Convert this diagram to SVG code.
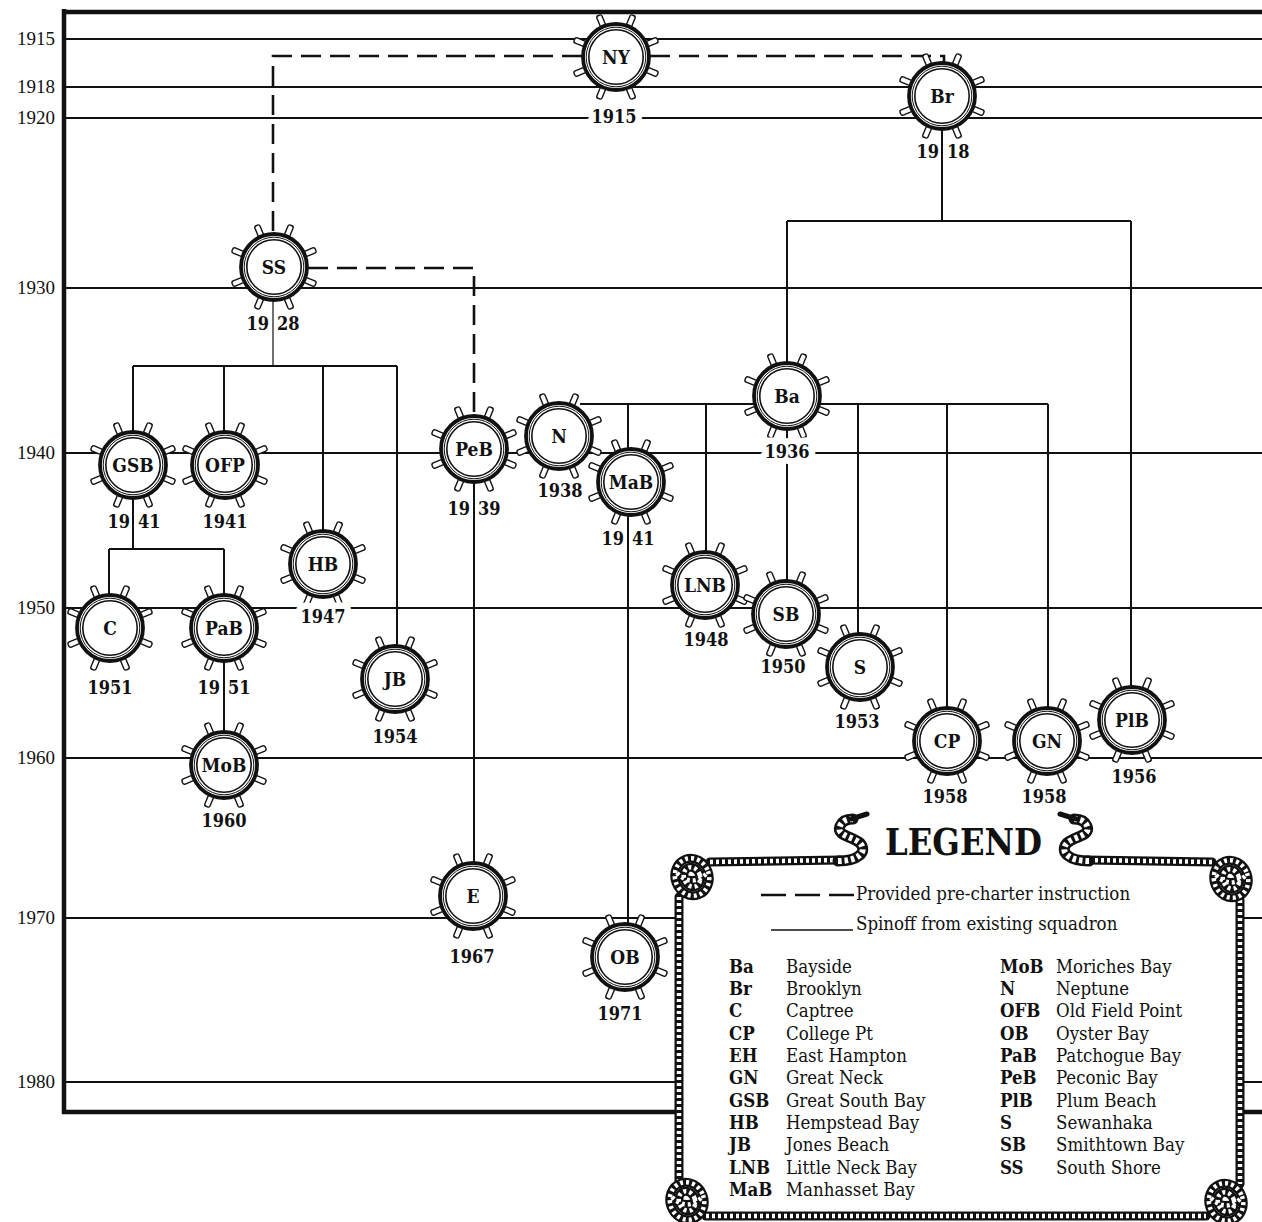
<svg xmlns="http://www.w3.org/2000/svg" xmlns:xlink="http://www.w3.org/1999/xlink" width="1262" height="1222" viewBox="0 0 1262 1222">
<style>
.bg{fill:#fff}
.frame{stroke:#111;stroke-width:4.5;fill:none}
.yl{stroke:#111;stroke-width:2;fill:none}
.ax{font-family:"Liberation Serif",serif;font-size:19px;text-anchor:end;fill:#111}
.con{stroke:#111;stroke-width:2;fill:none}
.thin{stroke:#111;stroke-width:1.2;fill:none}
.dash{stroke:#111;stroke-width:2.6;fill:none;stroke-dasharray:20 9}
.spoke rect{fill:#fff;stroke:#111;stroke-width:1.4}
.rim{fill:#fff;stroke:#111;stroke-width:3.8}
.rim2{fill:none;stroke:#111;stroke-width:1}
.rim3{fill:none;stroke:#111;stroke-width:1.6}
.lbl{font-family:"DejaVu Serif Condensed","DejaVu Serif",serif;font-stretch:condensed;font-weight:bold;font-size:19px;text-anchor:middle;fill:#111}
.yr{font-family:"DejaVu Serif Condensed","DejaVu Serif",serif;font-stretch:condensed;font-weight:bold;font-size:18px;text-anchor:middle;fill:#111}
.halo{paint-order:stroke;stroke:#fff;stroke-width:13px;stroke-linejoin:round}
.lt{font-family:"DejaVu Serif Condensed","DejaVu Serif",serif;font-stretch:condensed;font-size:18.5px;fill:#111}
.lb{font-family:"DejaVu Serif Condensed","DejaVu Serif",serif;font-stretch:condensed;font-weight:bold;font-size:18.5px;fill:#111}
.ttl{font-family:"DejaVu Serif Condensed","DejaVu Serif",serif;font-stretch:condensed;font-weight:bold;font-size:38px;fill:#111}
.rope{fill:none;stroke:#111;stroke-width:9;stroke-linecap:round;stroke-linejoin:round}
.ropei{fill:none;stroke:#fff;stroke-width:4.5;stroke-dasharray:3 3}
.curl{fill:none;stroke:#111;stroke-width:11;stroke-linecap:round}
.curli{fill:none;stroke:#fff;stroke-width:6;stroke-dasharray:3.5 3}
</style>
<defs>
<g id="wheel">
<g class="spoke">
<rect x="31" y="-2.8" width="14" height="5.6" rx="2" transform="rotate(22.5)"/>
<rect x="31" y="-2.8" width="14" height="5.6" rx="2" transform="rotate(67.5)"/>
<rect x="31" y="-2.8" width="14" height="5.6" rx="2" transform="rotate(112.5)"/>
<rect x="31" y="-2.8" width="14" height="5.6" rx="2" transform="rotate(157.5)"/>
<rect x="31" y="-2.8" width="14" height="5.6" rx="2" transform="rotate(202.5)"/>
<rect x="31" y="-2.8" width="14" height="5.6" rx="2" transform="rotate(247.5)"/>
<rect x="31" y="-2.8" width="14" height="5.6" rx="2" transform="rotate(292.5)"/>
<rect x="31" y="-2.8" width="14" height="5.6" rx="2" transform="rotate(337.5)"/>
</g>
<circle r="33" class="rim"/>
<circle r="29.8" class="rim2"/>
<circle r="27.2" class="rim3"/>
</g>
<path id="ropeTL" d="M710,862 L840,860"/>
<path id="ropeTR" d="M1212,862 L1087,860"/>
<path id="curlL" d="M838,861 C858,861 868,852 860,843 C852,836 836,836 840,826 C842,821 847,819 853,819"/>
<path id="curlR" d="M1089,861 C1069,861 1059,852 1067,843 C1075,836 1091,836 1087,826 C1085,821 1080,819 1074,819"/>
<path id="ropeL" d="M679,897 V1184"/>
<path id="ropeR" d="M1240,900 V1184"/>
<path id="ropeB" d="M706,1216 H1206"/>
<g id="knot">
<ellipse rx="17" ry="19" transform="rotate(-20)"/>
<ellipse rx="8" ry="10" transform="rotate(-20)"/>
<path d="M-15,-4 C-6,6 6,6 15,-4"/>
</g>
</defs>
<rect class="bg" x="0" y="0" width="1262" height="1222"/>

<g id="grid">
<path class="yl" d="M64,39 H1262 M64,87 H1262 M64,118 H1262 M64,288 H1262 M64,453 H1262 M64,608 H1262 M64,758 H1262 M64,918 H1262 M64,1082 H1262"/>
<path class="frame" d="M62,12 H1262 M64,9 V1114 M62,1112 H1262"/>
<text class="ax" x="55" y="45">1915</text>
<text class="ax" x="55" y="93">1918</text>
<text class="ax" x="55" y="124">1920</text>
<text class="ax" x="55" y="294">1930</text>
<text class="ax" x="55" y="459">1940</text>
<text class="ax" x="55" y="614">1950</text>
<text class="ax" x="55" y="764">1960</text>
<text class="ax" x="55" y="924">1970</text>
<text class="ax" x="55" y="1088">1980</text>
</g>

<g id="connectors">
<path class="dash" d="M582,56 H273 V233"/>
<path class="dash" d="M650,56 H944 V63"/>
<path class="dash" d="M308,268 H474 V415"/>
<path class="con" d="M942,130 V221 M787,221 H1131 M787,221 V362 M1131,221 V687"/>
<path class="thin" d="M273,301 V366"/>
<path class="con" d="M133,366 H397 M133,366 V431 M224,366 V431 M323,366 V530 M397,366 V645"/>
<path class="con" d="M133,499 V549 M109,549 H224 M109,549 V594 M224,549 V594"/>
<path class="con" d="M224,662 V731"/>
<path class="con" d="M474,483 V862"/>
<path class="con" d="M580,404 H1048 M628,404 V448 M706,404 V551 M858,404 V633 M947,404 V707 M1048,404 V707 M787,430 V580"/>
<path class="con" d="M628,516 V923"/>
</g>

<g id="node-NY"><use xlink:href="#wheel" x="616" y="57"/><text class="lbl" x="616" y="64">NY</text><text class="yr halo" x="614" y="123">1915</text></g>
<g id="node-Br"><use xlink:href="#wheel" x="942" y="96"/><text class="lbl" x="942" y="103">Br</text><text class="yr" x="943" y="158">19<tspan dx="8">18</tspan></text></g>
<g id="node-SS"><use xlink:href="#wheel" x="274" y="267"/><text class="lbl" x="274" y="274">SS</text><text class="yr" x="273" y="330">19<tspan dx="8">28</tspan></text></g>
<g id="node-GSB"><use xlink:href="#wheel" x="133" y="465"/><text class="lbl" x="133" y="472">GSB</text><text class="yr" x="134" y="528">19<tspan dx="8">41</tspan></text></g>
<g id="node-OFP"><use xlink:href="#wheel" x="225" y="465"/><text class="lbl" x="225" y="472">OFP</text><text class="yr" x="225" y="528">1941</text></g>
<g id="node-HB"><use xlink:href="#wheel" x="323" y="564"/><text class="lbl" x="323" y="571">HB</text><text class="yr halo" x="323" y="623">1947</text></g>
<g id="node-C"><use xlink:href="#wheel" x="110" y="628"/><text class="lbl" x="110" y="635">C</text><text class="yr" x="110" y="694">1951</text></g>
<g id="node-PaB"><use xlink:href="#wheel" x="224" y="628"/><text class="lbl" x="224" y="635">PaB</text><text class="yr" x="224" y="694">19<tspan dx="8">51</tspan></text></g>
<g id="node-JB"><use xlink:href="#wheel" x="395" y="679"/><text class="lbl" x="395" y="686">JB</text><text class="yr" x="395" y="743">1954</text></g>
<g id="node-MoB"><use xlink:href="#wheel" x="224" y="765"/><text class="lbl" x="224" y="772">MoB</text><text class="yr" x="224" y="827">1960</text></g>
<g id="node-PeB"><use xlink:href="#wheel" x="474" y="449"/><text class="lbl" x="474" y="456">PeB</text><text class="yr" x="474" y="515">19<tspan dx="8">39</tspan></text></g>
<g id="node-N"><use xlink:href="#wheel" x="559" y="436"/><text class="lbl" x="559" y="443">N</text><text class="yr" x="560" y="497">1938</text></g>
<g id="node-MaB"><use xlink:href="#wheel" x="631" y="482"/><text class="lbl" x="631" y="489">MaB</text><text class="yr" x="628" y="545">19<tspan dx="8">41</tspan></text></g>
<g id="node-Ba"><use xlink:href="#wheel" x="787" y="396"/><text class="lbl" x="787" y="403">Ba</text><text class="yr halo" x="787" y="458">1936</text></g>
<g id="node-LNB"><use xlink:href="#wheel" x="705" y="585"/><text class="lbl" x="705" y="592">LNB</text><text class="yr" x="706" y="646">1948</text></g>
<g id="node-SB"><use xlink:href="#wheel" x="786" y="614"/><text class="lbl" x="786" y="621">SB</text><text class="yr" x="783" y="673">1950</text></g>
<g id="node-S"><use xlink:href="#wheel" x="860" y="667"/><text class="lbl" x="860" y="674">S</text><text class="yr" x="857" y="728">1953</text></g>
<g id="node-CP"><use xlink:href="#wheel" x="947" y="741"/><text class="lbl" x="947" y="748">CP</text><text class="yr" x="945" y="803">1958</text></g>
<g id="node-GN"><use xlink:href="#wheel" x="1047" y="741"/><text class="lbl" x="1047" y="748">GN</text><text class="yr" x="1044" y="803">1958</text></g>
<g id="node-PlB"><use xlink:href="#wheel" x="1132" y="720"/><text class="lbl" x="1132" y="727">PlB</text><text class="yr" x="1134" y="783">1956</text></g>
<g id="node-E"><use xlink:href="#wheel" x="473" y="896"/><text class="lbl" x="473" y="903">E</text><text class="yr" x="472" y="963">1967</text></g>
<g id="node-OB"><use xlink:href="#wheel" x="625" y="957"/><text class="lbl" x="625" y="964">OB</text><text class="yr" x="620" y="1020">1971</text></g>

<g id="legend">
<rect class="bg" x="679" y="863" width="561" height="359"/>
<use xlink:href="#ropeTL" class="rope"/><use xlink:href="#ropeTL" class="ropei"/>
<use xlink:href="#ropeTR" class="rope"/><use xlink:href="#ropeTR" class="ropei"/>
<use xlink:href="#curlL" class="curl"/><use xlink:href="#curlL" class="curli"/>
<use xlink:href="#curlR" class="curl"/><use xlink:href="#curlR" class="curli"/>
<use xlink:href="#ropeL" class="rope"/><use xlink:href="#ropeL" class="ropei"/>
<use xlink:href="#ropeR" class="rope"/><use xlink:href="#ropeR" class="ropei"/>
<use xlink:href="#ropeB" class="rope"/><use xlink:href="#ropeB" class="ropei"/>
<use xlink:href="#knot" x="692" y="877" class="rope"/><use xlink:href="#knot" x="692" y="877" class="ropei"/>
<use xlink:href="#knot" x="1231" y="879" class="rope"/><use xlink:href="#knot" x="1231" y="879" class="ropei"/>
<use xlink:href="#knot" x="687" y="1201" class="rope"/><use xlink:href="#knot" x="687" y="1201" class="ropei"/>
<use xlink:href="#knot" x="1226" y="1202" class="rope"/><use xlink:href="#knot" x="1226" y="1202" class="ropei"/>
<path d="M851,819 L867,814" stroke="#111" stroke-width="5" stroke-linecap="round"/>
<path d="M1076,819 L1060,814" stroke="#111" stroke-width="5" stroke-linecap="round"/>
<text class="ttl" x="885" y="855" textLength="157" lengthAdjust="spacingAndGlyphs">LEGEND</text>
<path d="M761,895 H854" stroke="#111" stroke-width="2.6" stroke-dasharray="25 9" fill="none"/>
<text class="lt" x="856" y="900">Provided pre-charter instruction</text>
<path d="M771,930 H853" stroke="#111" stroke-width="1.5" fill="none"/>
<text class="lt" x="856" y="930">Spinoff from existing squadron</text>
<g class="lb">
<text x="729" y="973">Ba</text><text x="729" y="995">Br</text><text x="729" y="1017">C</text><text x="729" y="1040">CP</text><text x="729" y="1062">EH</text><text x="729" y="1084">GN</text><text x="729" y="1107">GSB</text><text x="729" y="1129">HB</text><text x="729" y="1151">JB</text><text x="729" y="1174">LNB</text><text x="729" y="1196">MaB</text>
<text x="1000" y="973">MoB</text><text x="1000" y="995">N</text><text x="1000" y="1017">OFB</text><text x="1000" y="1040">OB</text><text x="1000" y="1062">PaB</text><text x="1000" y="1084">PeB</text><text x="1000" y="1107">PlB</text><text x="1000" y="1129">S</text><text x="1000" y="1151">SB</text><text x="1000" y="1174">SS</text>
</g>
<g class="lt">
<text x="786" y="973">Bayside</text><text x="786" y="995">Brooklyn</text><text x="786" y="1017">Captree</text><text x="786" y="1040">College Pt</text><text x="786" y="1062">East Hampton</text><text x="786" y="1084">Great Neck</text><text x="786" y="1107">Great South Bay</text><text x="786" y="1129">Hempstead Bay</text><text x="786" y="1151">Jones Beach</text><text x="786" y="1174">Little Neck Bay</text><text x="786" y="1196">Manhasset Bay</text>
<text x="1056" y="973">Moriches Bay</text><text x="1056" y="995">Neptune</text><text x="1056" y="1017">Old Field Point</text><text x="1056" y="1040">Oyster Bay</text><text x="1056" y="1062">Patchogue Bay</text><text x="1056" y="1084">Peconic Bay</text><text x="1056" y="1107">Plum Beach</text><text x="1056" y="1129">Sewanhaka</text><text x="1056" y="1151">Smithtown Bay</text><text x="1056" y="1174">South Shore</text>
</g>
</g>
</svg>
